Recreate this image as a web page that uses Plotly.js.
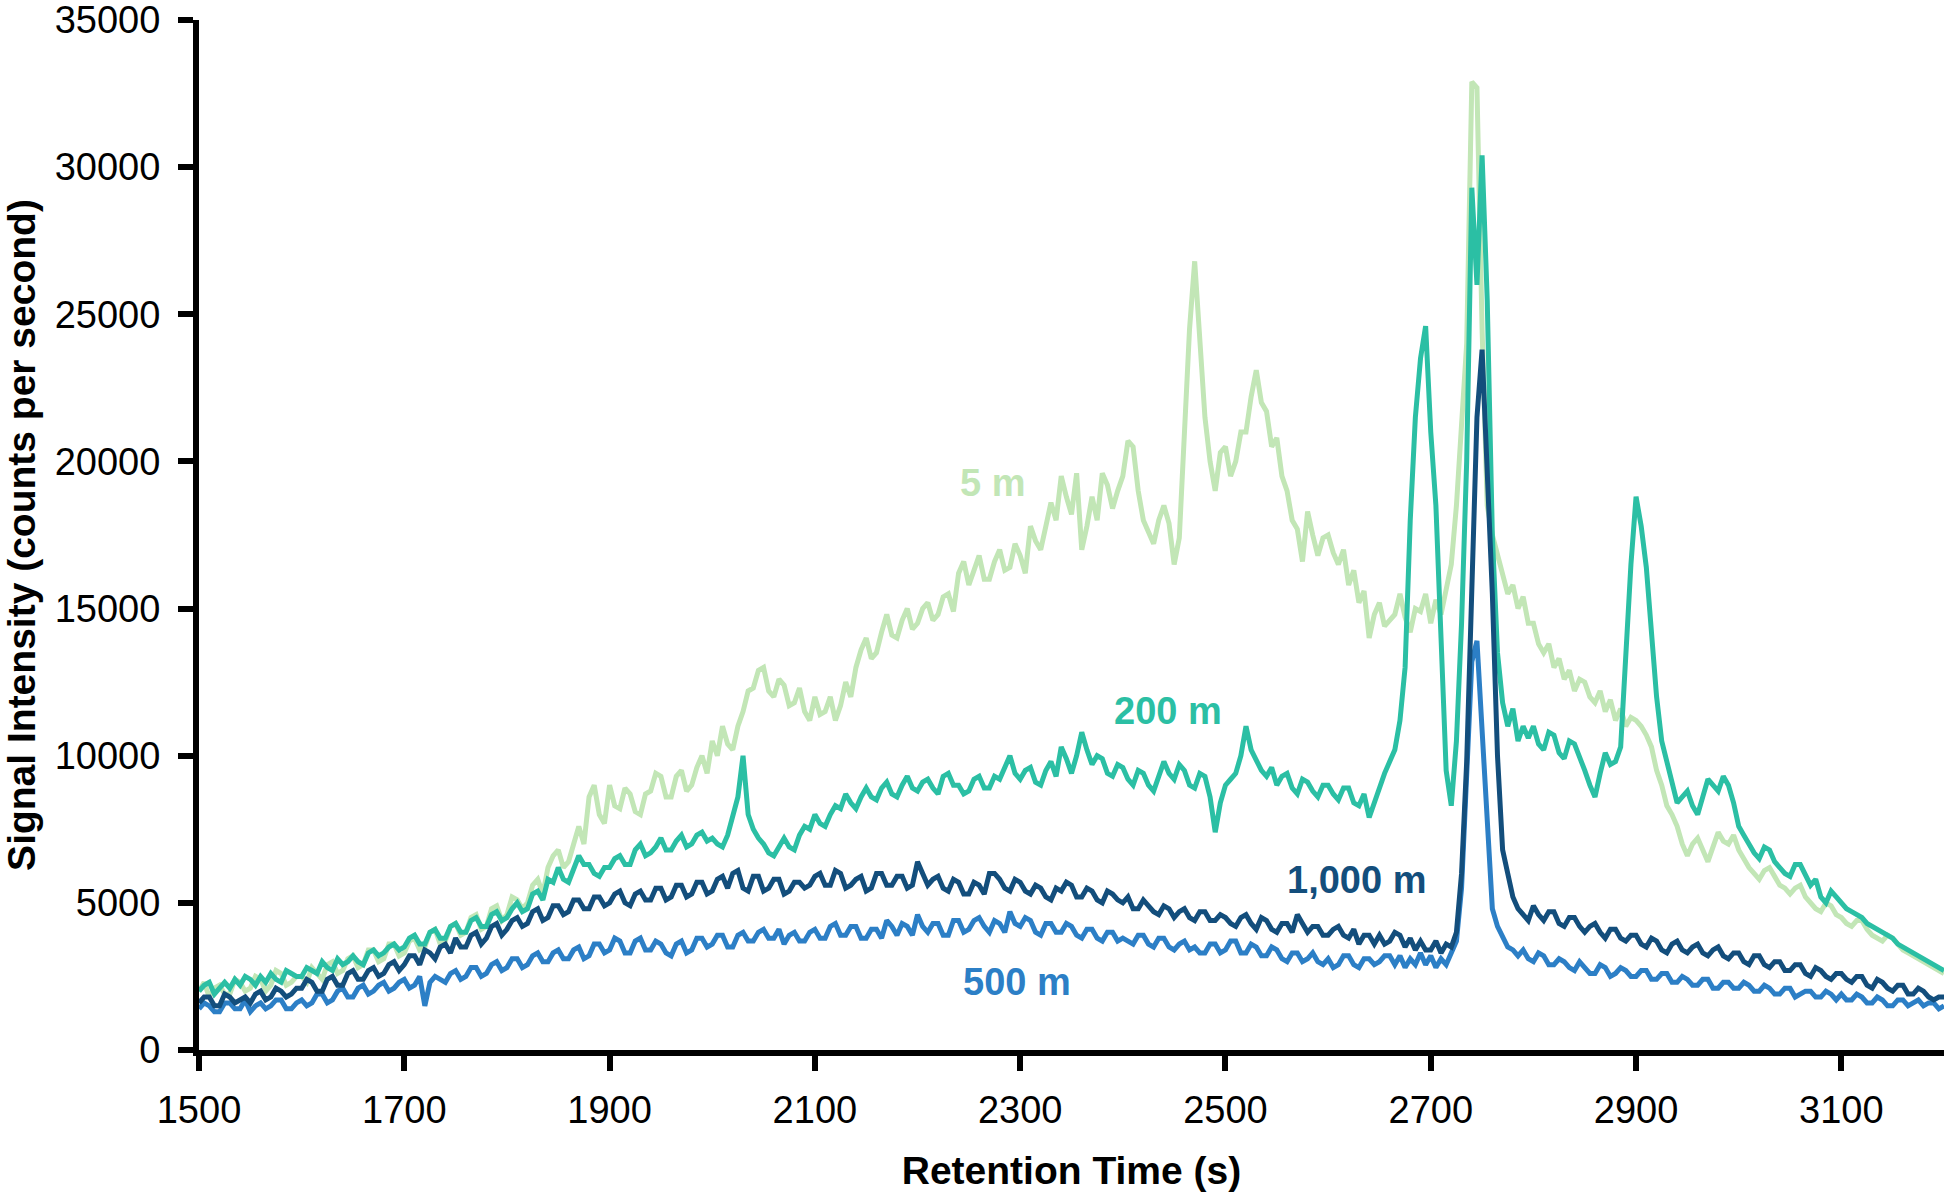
<!DOCTYPE html>
<html>
<head>
<meta charset="utf-8">
<script src="https://cdn.plot.ly/plotly-3.0.1.min.js"></script>
<style>
  html, body { margin: 0; padding: 0; background: #fff; }
  #chart { width: 1947px; height: 1195px; }
</style>
</head>
<body>
<div id="chart"></div>
<script>
/* ─── Retention time chromatograms by depth ─── */

// samples every 5 s from 1500 s to 3200 s (one row = 50 s)
const TIME_START = 1500;
const TIME_STEP = 5;

// signal intensity (counts per second)
const signal5m = [
  2000, 2300, 1800, 2100, 2200, 1900, 1900, 2400, 2300, 2000,
  2100, 2500, 2400, 2000, 2200, 2700, 2600, 2200, 2300, 2500,
  2500, 2300, 2800, 2600, 2400, 2900, 3000, 2600, 2700, 3100,
  3200, 2800, 2900, 3400, 3400, 3000, 3100, 3600, 3600, 3200,
  3300, 3700, 3800, 3400, 3500, 4000, 4100, 3600, 3700, 4200,
  4300, 3900, 4000, 4500, 4600, 4100, 4200, 4800, 4900, 4400,
  4600, 5200, 5100, 4800, 5000, 5600, 5800, 5300, 6200, 6600,
  6800, 6200, 6400, 7000, 7600, 7000, 8600, 9000, 8000, 7700,
  9000, 8300, 8200, 8900, 8700, 8100, 8000, 8700, 8800, 9400,
  9300, 8600, 8600, 9300, 9500, 8800, 9000, 9600, 10000, 9400,
  10500, 10000, 11000, 10400, 10200, 11000, 11500, 12200, 12300, 12900,
  13000, 12200, 12000, 12600, 12400, 11700, 11800, 12300, 11500, 11200,
  12000, 11400, 11500, 12000, 11200, 11700, 12500, 12000, 13000, 13600,
  14000, 13300, 13500, 14200, 14800, 14100, 14000, 14600, 15000, 14300,
  14500, 15000, 15200, 14600, 14800, 15400, 15500, 14900, 16200, 16600,
  15800, 16300, 16800, 16000, 16000, 16600, 17000, 16300, 16400, 17200,
  16800, 16200, 17800, 17300, 17000, 17800, 18600, 18000, 19500, 18800,
  18200, 19600, 17000, 17800, 18800, 18000, 19600, 19200, 18400, 19000,
  19500, 20700, 20500, 19000, 18000, 17600, 17200, 18000, 18500, 17900,
  16500, 17400, 21000, 24500, 26800, 24000, 21500, 20000, 19000, 20300,
  20500, 19500, 20000, 21000, 21000, 22200, 23100, 22000, 21700, 20500,
  20800, 19500, 19000, 18000, 17700, 16600, 18300, 17500, 16800, 17400,
  17500, 16900, 16500, 17000, 15800, 16300, 15200, 15600, 14000, 14800,
  15200, 14400, 14600, 14800, 15500, 14700, 14200, 15000, 14900, 15500,
  14500, 15300, 14800, 15600, 16500, 18500, 21000, 24000, 32900, 32700,
  24500, 18500, 17500, 16800, 16200, 15500, 15800, 15000, 15400, 14500,
  14500, 13800, 13500, 13800, 13000, 13300, 12600, 12900, 12200, 12600,
  12500, 12000, 11800, 12200, 11500, 11900, 11200, 11600, 11000, 11300,
  11200, 11000, 10700, 10300, 9500, 9000, 8300, 8000, 7600, 7000,
  6600, 7000, 7200, 6800, 6400, 6900, 7400, 7100, 7000, 7300,
  6800, 6500, 6200, 6000, 5800, 6100, 6200, 5900, 5600, 5500,
  5300, 5500, 5600, 5200, 5000, 4800, 4700, 5000, 4900, 4600,
  4500, 4300, 4200, 4400, 4400, 4100, 3900, 3800, 3700, 3900,
  3800, 3600, 3400, 3300, 3200, 3100, 3000, 2900, 2800, 2700,
  2600
];

const signal200m = [
  2000, 2200, 2300, 1900, 2100, 2300, 2100, 2400, 2200, 2500,
  2400, 2200, 2500, 2300, 2600, 2400, 2300, 2700, 2600, 2500,
  2500, 2800, 2700, 2600, 3000, 2800, 2700, 3100, 2900, 3000,
  3200, 3000, 2900, 3300, 3400, 3200, 3300, 3500, 3600, 3400,
  3500, 3800, 3900, 3600, 3600, 4000, 4100, 3800, 3800, 4200,
  4300, 4000, 4000, 4400, 4500, 4200, 4200, 4600, 4700, 4400,
  4500, 4800, 5000, 4700, 4800, 5300, 5400, 5100, 5800, 5700,
  6200, 5800, 5700, 6100, 6600, 6300, 6300, 6000, 5900, 6200,
  6200, 6500, 6600, 6300, 6300, 6800, 7000, 6600, 6700, 6900,
  7200, 6800, 6800, 7100, 7300, 6900, 7000, 7300, 7400, 7100,
  7200, 7000, 6900, 7300, 8000, 8600, 10000, 8000, 7500, 7200,
  7000, 6700, 6600, 6900, 7200, 6900, 6800, 7300, 7600, 7500,
  8000, 7700, 7600, 8000, 8300, 8200, 8700, 8400, 8200, 8600,
  8900, 8600, 8500, 8900, 9100, 8700, 8600, 9000, 9300, 8900,
  8800, 9100, 9200, 8900, 8700, 9300, 9400, 9000, 9000, 8700,
  8800, 9200, 9300, 8900, 8900, 9300, 9200, 9600, 10000, 9400,
  9200, 9500, 9600, 9100, 9000, 9500, 9800, 9300, 10300, 9900,
  9400, 10000, 10800, 10200, 9700, 10000, 9900, 9400, 9300, 9700,
  9600, 9200, 9000, 9500, 9400, 9000, 8800, 9300, 9800, 9400,
  9200, 9700, 9500, 9000, 8900, 9400, 9300, 8600, 7400, 8400,
  9000, 9200, 9400, 10000, 11000, 10200, 9800, 9500, 9300, 9600,
  9000, 9300, 9400, 8900, 8700, 9200, 9100, 8800, 8600, 9000,
  9000, 8700, 8500, 8900, 8900, 8400, 8300, 8700, 7900, 8400,
  9000, 9400, 9800, 10200, 11200, 13000, 18000, 21500, 23500, 24600,
  21000, 18500, 14000, 9500, 8300, 10500, 14500, 20000, 29300, 26000,
  30400, 25500, 17500, 13500, 11800, 11000, 11600, 10500, 11000, 10600,
  11000, 10400, 10200, 10800, 10700, 10100, 9900, 10500, 10400, 10000,
  9500, 9000, 8600, 9400, 10100, 9700, 9800, 10300, 13800, 16500,
  18800, 17800, 16400, 14000, 12000, 10500, 9800, 9000, 8400, 8600,
  8800, 8300, 8000, 8600, 9200, 9000, 8800, 9300, 9000, 8400,
  7600, 7300, 7000, 6700, 6500, 6900, 6800, 6400, 6200, 6000,
  5900, 6300, 6300, 5900, 5600, 5800, 5200, 5000, 5400, 5200,
  5000, 4800, 4700, 4600, 4500, 4300, 4200, 4100, 4000, 3900,
  3800, 3600, 3500, 3400, 3300, 3200, 3100, 3000, 2900, 2800,
  2700
];

const signal500m = [
  1400, 1600, 1500, 1300, 1300, 1600, 1600, 1400, 1400, 1700,
  1300, 1500, 1600, 1400, 1500, 1700, 1700, 1400, 1400, 1600,
  1700, 1500, 1600, 1900, 1900, 1600, 1700, 2000, 2100, 1800,
  1800, 2100, 2200, 1900, 2000, 2200, 2300, 2000, 2100, 2300,
  2400, 2100, 2200, 2500, 1500, 2300, 2500, 2400, 2300, 2600,
  2700, 2400, 2500, 2800, 2800, 2500, 2600, 2900, 3000, 2700,
  2800, 3100, 3100, 2800, 2900, 3200, 3300, 3000, 3000, 3300,
  3400, 3100, 3100, 3400, 3500, 3100, 3200, 3600, 3600, 3300,
  3400, 3800, 3700, 3300, 3300, 3700, 3800, 3400, 3400, 3700,
  3600, 3300, 3200, 3600, 3700, 3300, 3400, 3800, 3800, 3500,
  3600, 3900, 3900, 3500, 3500, 3900, 4000, 3700, 3700, 4000,
  4100, 3800, 3800, 4100, 3600, 3900, 4000, 3700, 3700, 4000,
  4100, 3800, 3800, 4200, 4300, 3900, 3900, 4200, 4200, 3800,
  3800, 4100, 4100, 3800, 4400, 4200, 3900, 4300, 4200, 3900,
  4600, 4200, 4000, 4300, 4300, 3900, 3900, 4400, 4400, 4000,
  4100, 4400, 4500, 4200, 4000, 4400, 4300, 4000, 4700, 4300,
  4200, 4500, 4400, 4000, 3900, 4300, 4300, 4000, 4000, 4300,
  4200, 3900, 3800, 4100, 4100, 3800, 3700, 4000, 4000, 3700,
  3800, 3700, 3600, 3900, 3900, 3600, 3500, 3800, 3800, 3500,
  3400, 3600, 3700, 3400, 3500, 3300, 3300, 3600, 3600, 3300,
  3400, 3700, 3700, 3300, 3300, 3600, 3500, 3200, 3200, 3500,
  3400, 3100, 3000, 3300, 3300, 3000, 3100, 3300, 3000, 2900,
  3100, 2800, 2900, 3200, 3200, 2900, 2800, 3100, 3100, 2900,
  3000, 3200, 3200, 2900, 3200, 2800, 3100, 2900, 3300, 2900,
  3200, 2800, 3100, 2900, 3300, 3700, 5500, 9500, 13200, 13900,
  11000, 8200, 4800, 4200, 3800, 3500, 3400, 3200, 3400, 3100,
  3000, 3300, 3200, 2900, 2900, 3100, 3000, 2800, 2700, 3000,
  2800, 2600, 2600, 2900, 2800, 2500, 2600, 2800, 2700, 2500,
  2500, 2700, 2700, 2400, 2400, 2600, 2600, 2300, 2300, 2500,
  2400, 2200, 2200, 2400, 2400, 2100, 2100, 2300, 2300, 2100,
  2100, 2300, 2200, 2000, 2000, 2200, 2100, 1900, 1900, 2100,
  2100, 1800, 1900, 2000, 2000, 1800, 1800, 2000, 1900, 1700,
  1900, 1700, 1700, 1900, 1800, 1600, 1600, 1800, 1700, 1500,
  1500, 1700, 1700, 1500, 1600, 1700, 1500, 1600, 1600, 1400,
  1500
];

const signal1000m = [
  1600, 1800, 1800, 1500, 1500, 1900, 1800, 1600, 1700, 1800,
  1600, 1900, 2000, 1700, 1800, 2100, 2000, 1800, 1900, 2100,
  2100, 2400, 2300, 2000, 2000, 2400, 2500, 2200, 2200, 2600,
  2700, 2400, 2400, 2700, 2800, 2500, 2600, 2900, 3000, 2700,
  2900, 3200, 3200, 2900, 3400, 3300, 3100, 3500, 3600, 3300,
  3800, 3500, 3500, 3900, 4000, 3600, 3800, 4200, 4300, 3900,
  4100, 4400, 4500, 4200, 4300, 4700, 4800, 4400, 4500, 4900,
  4900, 4600, 4700, 5100, 5100, 4800, 4800, 5200, 5200, 4900,
  5000, 5300, 5400, 5000, 4900, 5300, 5400, 5100, 5100, 5500,
  5500, 5100, 5200, 5600, 5600, 5200, 5300, 5700, 5700, 5300,
  5400, 5800, 5900, 5500, 6000, 6100, 5500, 5400, 5900, 5900,
  5400, 5500, 5800, 5800, 5300, 5400, 5700, 5700, 5500, 5600,
  5900, 6000, 5600, 5600, 6100, 6000, 5500, 5600, 5800, 5900,
  5400, 5500, 6000, 6000, 5600, 5600, 5900, 5900, 5500, 5600,
  6400, 6000, 5600, 5800, 5900, 5500, 5400, 5800, 5700, 5300,
  5300, 5700, 5600, 5300, 6000, 6000, 5800, 5500, 5400, 5800,
  5700, 5400, 5300, 5600, 5500, 5200, 5100, 5500, 5400, 5700,
  5600, 5200, 5200, 5500, 5400, 5100, 5000, 5400, 5300, 5100,
  5000, 5200, 4800, 4800, 5100, 4900, 4700, 4600, 4900, 4800,
  4500, 4700, 4800, 4500, 4400, 4700, 4700, 4400, 4400, 4600,
  4500, 4300, 4200, 4500, 4600, 4300, 4100, 4500, 4400, 4100,
  4000, 4300, 4300, 4000, 4600, 4300, 4000, 4200, 4200, 3900,
  3900, 4100, 4200, 3900, 3800, 4100, 3600, 3900, 3900, 3600,
  3900, 3600, 3700, 4000, 3900, 3500, 3800, 3400, 3700, 3400,
  3400, 3700, 3300, 3600, 3500, 4000, 6000, 9800, 15500, 21500,
  23800, 19800, 15500, 10000, 6800, 6000, 5200, 4800, 4600, 4400,
  4900, 4600, 4400, 4700, 4700, 4300, 4200, 4500, 4500, 4200,
  4000, 4200, 4300, 4000, 3800, 4100, 4100, 3800, 3700, 3900,
  3900, 3600, 3500, 3800, 3700, 3400, 3300, 3600, 3700, 3400,
  3300, 3500, 3600, 3300, 3200, 3400, 3500, 3200, 3100, 3300,
  3300, 3000, 2900, 3200, 3200, 2900, 2800, 3000, 3000, 2700,
  2700, 2900, 2900, 2600, 2500, 2800, 2700, 2500, 2400, 2600,
  2600, 2400, 2300, 2500, 2500, 2200, 2100, 2400, 2300, 2100,
  2000, 2200, 2200, 1900, 1900, 2100, 2000, 1800, 1700, 1800,
  1800
];

const xTicks = [1500, 1700, 1900, 2100, 2300, 2500, 2700, 2900, 3100];
const yTicks = [0, 5000, 10000, 15000, 20000, 25000, 30000, 35000];

const COLORS = {
  m5: '#c2e6b6',
  m200: '#2bbfa4',
  m500: '#2c7fc6',
  m1000: '#134e7c',
};

const FONT = 'Liberation Sans, Arial, sans-serif';

function makeTrace(y, color, name) {
  return {
    x0: TIME_START,
    dx: TIME_STEP,
    y: y,
    type: 'scatter',
    mode: 'lines',
    line: { color: color, width: 5 },
    name: name,
    hoverinfo: 'skip',
  };
}

const traces = [
  makeTrace(signal5m, COLORS.m5, '5 m'),
  makeTrace(signal200m, COLORS.m200, '200 m'),
  makeTrace(signal500m, COLORS.m500, '500 m'),
  makeTrace(signal1000m, COLORS.m1000, '1,000 m'),
];

function label(text, x, y, color) {
  return {
    text: text, x: x, y: y, xref: 'x', yref: 'y',
    showarrow: false,
    font: { family: FONT, size: 38, color: color, weight: 'bold' },
  };
}

const axisBase = {
  showgrid: false,
  zeroline: false,
  showline: true,
  linecolor: '#000',
  linewidth: 6,
  ticks: 'outside',
  ticklen: 15,
  tickwidth: 6,
  tickcolor: '#000',
  ticklabeloverflow: 'allow',
  tickfont: { family: FONT, size: 38, color: '#000' },
};

const layout = {
  width: 1947,
  height: 1195,
  paper_bgcolor: '#ffffff',
  plot_bgcolor: '#ffffff',
  showlegend: false,
  margin: { l: 199, r: 3, t: 20, b: 145 },
  font: { family: FONT, color: '#000' },
  xaxis: {
    ...axisBase,
    range: [1500, 3200],
    tickvals: xTicks,
    ticktext: xTicks.map(String),
    ticklabelstandoff: 6,
    title: {
      text: '<b>Retention Time (s)</b>',
      font: { family: FONT, size: 39, color: '#000' },
      standoff: 29,
    },
  },
  yaxis: {
    ...axisBase,
    range: [0, 35000],
    tickvals: yTicks,
    ticktext: yTicks.map(String),
    ticklabelstandoff: 10,
    title: {
      text: '<b>Signal Intensity (counts per second)</b>',
      font: { family: FONT, size: 39, color: '#000' },
      standoff: 14,
    },
  },
  annotations: [
    label('5 m', 2273, 19280, COLORS.m5),
    label('200 m', 2444, 11520, COLORS.m200),
    label('1,000 m', 2628, 5760, COLORS.m1000),
    label('500 m', 2297, 2300, COLORS.m500),
  ],
};

Plotly.newPlot('chart', traces, layout, { staticPlot: true, displayModeBar: false });
</script>
</body>
</html>
